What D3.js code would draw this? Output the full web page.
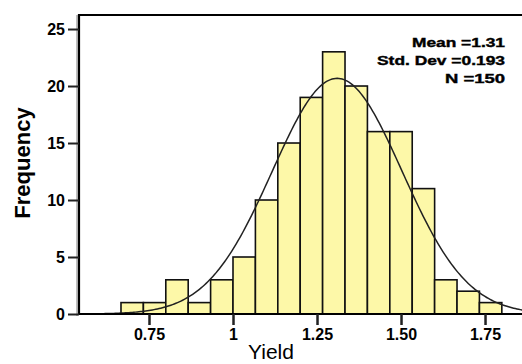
<!DOCTYPE html>
<html>
<head>
<meta charset="utf-8">
<script src="https://cdn.jsdelivr.net/npm/d3@7"></script>
<style>
  body { margin: 0; background: #fff; }
  svg { display: block; font-family: Arial, "Liberation Sans", sans-serif; }
</style>
</head>
<body>
<div id="chart"></div>
<script>
// bins of width 1/15 starting at 0.6667
var binStart = 2 / 3;
var binWidth = 1 / 15;
var counts = [1, 1, 3, 1, 3, 5, 10, 15, 19, 23, 20, 16, 16, 11, 3, 2, 1];
var xTicks = [0.75, 1, 1.25, 1.5, 1.75];
var xTickLabels = ["0.75", "1", "1.25", "1.50", "1.75"];
var yTicks = [0, 5, 10, 15, 20, 25];
var stats = ["Mean =1.31", "Std. Dev =0.193", "N =150"];
var mean = 1.31, sd = 0.193, n = 150;

var width = 522, height = 364;
var plotL = 79, plotT = 15, plotB = 314, plotR = 523;

var svg = d3.select("#chart").append("svg")
    .attr("width", width).attr("height", height);

var x = d3.scaleLinear().domain([0.5417, 1.863]).range([plotL, plotR]);
var y = d3.scaleLinear().domain([0, 26.23]).range([plotB, plotT]);

// bars
var bins = counts.map(function(c, i) {
  return { x0: binStart + i * binWidth, x1: binStart + (i + 1) * binWidth, c: c };
});
svg.append("g").selectAll("rect")
    .data(bins)
    .enter().append("rect")
    .attr("x", function(d) { return x(d.x0); })
    .attr("y", function(d) { return y(d.c); })
    .attr("width", function(d) { return x(d.x1) - x(d.x0); })
    .attr("height", function(d) { return y(0) - y(d.c); })
    .style("fill", "#fdf8a8")
    .style("stroke", "#111")
    .style("stroke-width", 1.6);

// normal curve
var pts = d3.range(0.55, 1.87, 0.005).map(function(v) {
  var z = (v - mean) / sd;
  return [v, n * binWidth / (sd * Math.sqrt(2 * Math.PI)) * Math.exp(-0.5 * z * z)];
});
svg.append("path")
    .datum(pts)
    .attr("d", d3.line().x(function(d) { return x(d[0]); }).y(function(d) { return y(d[1]); }))
    .style("fill", "none")
    .style("stroke", "#222")
    .style("stroke-width", 1.5);

// frame
svg.append("line").attr("x1", plotL - 2).attr("x2", plotL - 2).attr("y1", plotT).attr("y2", plotB + 2)
    .style("stroke", "#aaa").style("stroke-width", 1.5);
svg.append("path")
    .attr("d", "M" + width + "," + plotT + "H" + plotL + "V" + plotB + "H" + width)
    .style("fill", "none").style("stroke", "#000").style("stroke-width", 2.2);

// y axis
var yAxis = d3.axisLeft(y).tickValues(yTicks).tickSize(11).tickPadding(3);
var gy = svg.append("g").attr("transform", "translate(" + plotL + ",0)").call(yAxis);
gy.select(".domain").remove();
gy.selectAll(".tick line").style("stroke", "#222").style("stroke-width", 2);
gy.selectAll(".tick text").style("font-size", "16px").style("font-weight", "bold")
    .style("font-family", "Arial, sans-serif").style("fill", "#000");

// x axis
var xAxis = d3.axisBottom(x).tickValues(xTicks)
    .tickFormat(function(d, i) { return xTickLabels[i]; })
    .tickSize(11).tickPadding(4);
var gx = svg.append("g").attr("transform", "translate(0," + plotB + ")").call(xAxis);
gx.select(".domain").remove();
gx.selectAll(".tick line").style("stroke", "#222").style("stroke-width", 2.5);
gx.selectAll(".tick text").style("font-size", "16px").style("font-weight", "bold")
    .style("font-family", "Arial, sans-serif").style("fill", "#000");

// axis titles
svg.append("text")
    .attr("transform", "translate(30,163) rotate(-90)")
    .attr("text-anchor", "middle")
    .style("font-size", "22px").style("font-weight", "bold")
    .text("Frequency");
svg.append("text")
    .attr("x", 271).attr("y", 359)
    .attr("text-anchor", "middle")
    .style("font-size", "21px")
    .text("Yield");

// stats text
var statY = [47, 65, 83];
var statW = [93, 128, 60];
svg.append("g").selectAll("text")
    .data(stats)
    .enter().append("text")
    .attr("x", 505)
    .attr("y", function(d, i) { return statY[i]; })
    .attr("text-anchor", "end")
    .attr("textLength", function(d, i) { return statW[i]; })
    .attr("lengthAdjust", "spacingAndGlyphs")
    .style("font-size", "13px").style("font-weight", "bold")
    .style("stroke", "#000").style("stroke-width", 0.4)
    .text(function(d) { return d; });
</script>
</body>
</html>
